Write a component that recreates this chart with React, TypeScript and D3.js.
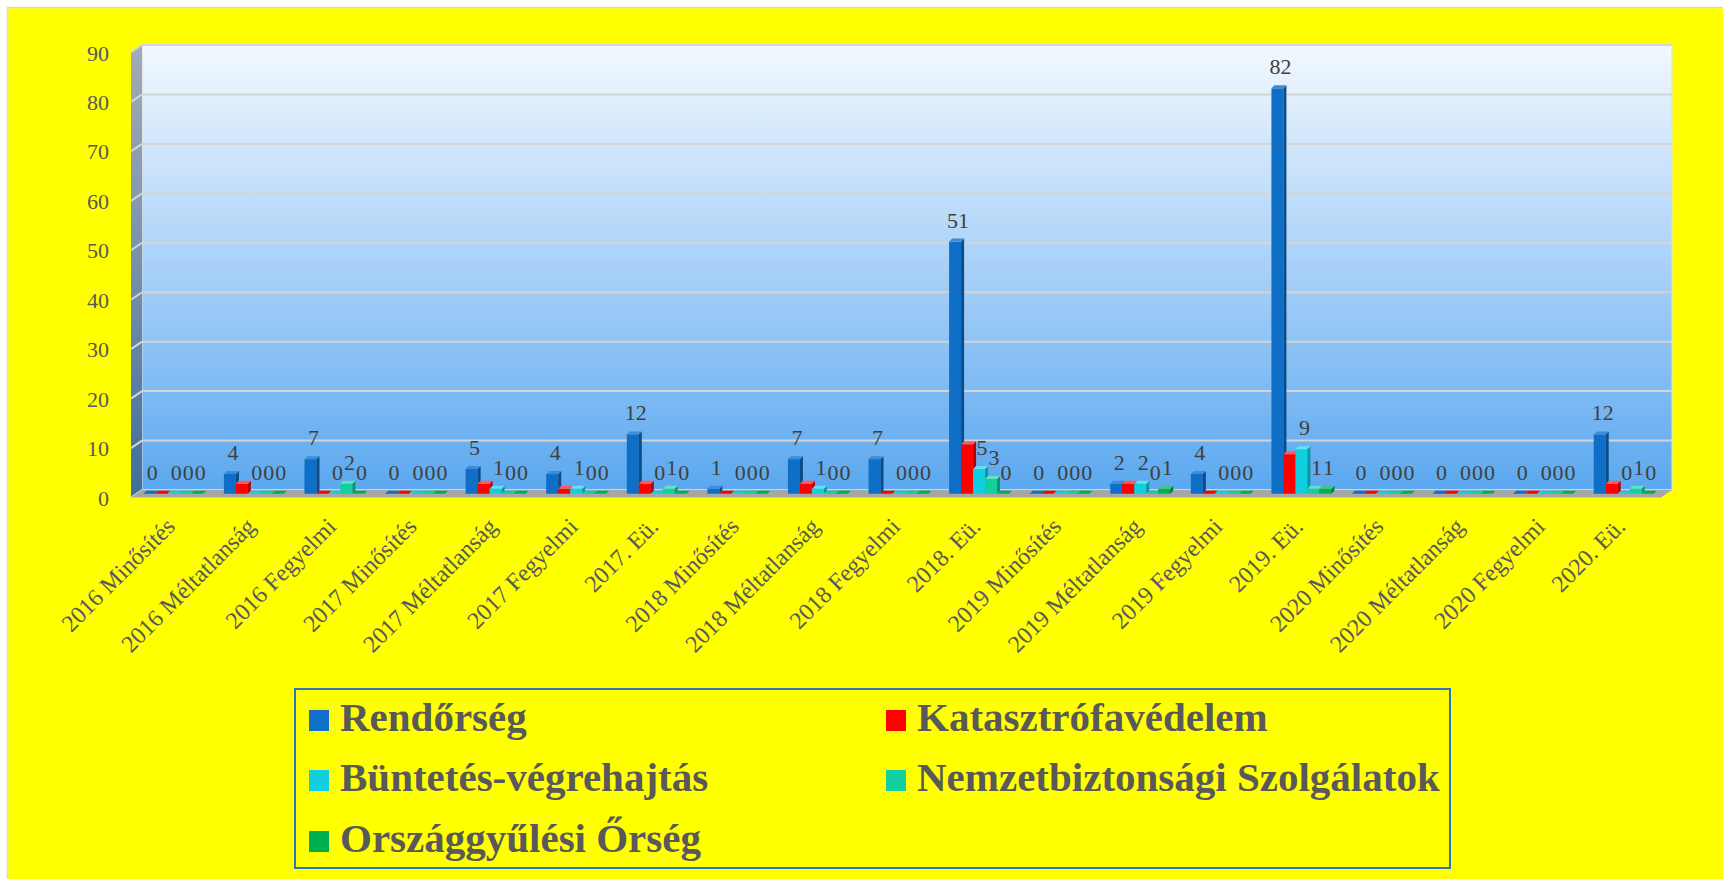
import React from 'react';
import * as d3 from 'd3';

const categories = [
  '2016 Minősítés', '2016 Méltatlanság', '2016 Fegyelmi',
  '2017 Minősítés', '2017 Méltatlanság', '2017 Fegyelmi', '2017. Eü.',
  '2018 Minősítés', '2018 Méltatlanság', '2018 Fegyelmi', '2018. Eü.',
  '2019 Minősítés', '2019 Méltatlanság', '2019 Fegyelmi', '2019. Eü.',
  '2020 Minősítés', '2020 Méltatlanság', '2020 Fegyelmi', '2020. Eü.',
];
const seriesNames = ['Rendőrség', 'Katasztrófavédelem', 'Büntetés-végrehajtás', 'Nemzetbiztonsági Szolgálatok', 'Országgyűlési Őrség'];
const rendorseg = [0, 4, 7, 0, 5, 4, 12, 1, 7, 7, 51, 0, 2, 4, 82, 0, 0, 0, 12];
const katasztrofavedelem = [0, 2, 0, 0, 2, 1, 2, 0, 2, 0, 10, 0, 2, 0, 8, 0, 0, 0, 2];
const buntetes = [0, 0, 0, 0, 1, 1, 0, 0, 1, 0, 5, 0, 2, 0, 9, 0, 0, 0, 0];
const nemzetbiztonsagi = [0, 0, 2, 0, 0, 0, 1, 0, 0, 0, 3, 0, 0, 0, 1, 0, 0, 0, 1];
const orszaggyulesi = [0, 0, 0, 0, 0, 0, 0, 0, 0, 0, 0, 0, 1, 0, 1, 0, 0, 0, 0];
const yTicks = [0, 10, 20, 30, 40, 50, 60, 70, 80, 90];

const seriesValues = [rendorseg, katasztrofavedelem, buntetes, nemzetbiztonsagi, orszaggyulesi];
const seriesFront = ['#0f6fc6', '#ff0000', '#12cfe0', '#12cf9e', '#00b050'];
const seriesSide = ['#0a4b88', '#b00000', '#0a97a4', '#0a9572', '#00783a'];
const seriesTop = ['#3e8bd6', '#ff5a5a', '#62e2ee', '#62e2c0', '#45c57c'];
const legendColors = ['#1070c8', '#ff0000', '#12cfe0', '#12cf9e', '#00b050'];
const showLabel = [true, false, true, true, true];

const W = 1723;
const H = 879;
const BACK_LEFT = 142;
const BACK_RIGHT = 1672;
const BACK_BASE = 490;
const DX = 11;
const DY = -7.5;
const FRONT_BASE = BACK_BASE - DY;
const MID_BASE = BACK_BASE - DY / 2;
const BD = 3;
const FONT = '"Liberation Serif", "Times New Roman", serif';
const TXT = '#595959';

export default function App() {
  const yH = d3.scaleLinear().domain([0, 90]).range([0, 445]);
  const x0 = d3.scaleBand<string>().domain(categories).range([133, 1664]).paddingInner(0.256).paddingOuter(0.128);
  const x1 = d3.scaleBand<string>().domain(seriesNames).range([0, x0.bandwidth()]);
  const bw = x1.bandwidth();

  const frontLeft = BACK_LEFT - DX;
  const frontRight = BACK_RIGHT - DX;
  const topV = yH(90);

  const sideWall = `M${frontLeft},${FRONT_BASE} L${frontLeft},${FRONT_BASE - topV} L${BACK_LEFT},${BACK_BASE - topV} L${BACK_LEFT},${BACK_BASE} Z`;
  const floor = `M${frontLeft},${FRONT_BASE} L${frontRight},${FRONT_BASE} L${BACK_RIGHT},${BACK_BASE} L${BACK_LEFT},${BACK_BASE} Z`;

  const bars: React.ReactNode[] = [];
  const labels: React.ReactNode[] = [];
  categories.forEach((c, ci) => {
    seriesNames.forEach((s, si) => {
      const v = seriesValues[si][ci];
      const x = (x0(c) as number) + (x1(s) as number);
      const yb = MID_BASE;
      const yt = MID_BASE - yH(v);
      const key = `${ci}-${si}`;
      bars.push(
        <g key={key}>
          {v > 0 && <rect x={x} y={yt} width={bw} height={yb - yt} fill={seriesFront[si]} />}
          {v > 0 && (
            <path d={`M${x + bw},${yb} L${x + bw},${yt} L${x + bw + BD},${yt - BD} L${x + bw + BD},${yb - BD} Z`} fill={seriesSide[si]} />
          )}
          <path d={`M${x},${yt} L${x + bw},${yt} L${x + bw + BD},${yt - BD} L${x + BD},${yt - BD} Z`} fill={v > 0 ? seriesTop[si] : seriesFront[si]} />
        </g>
      );
      if (showLabel[si]) {
        labels.push(
          <text key={'l' + key} x={x + bw / 2 + 3} y={yt - 14} textAnchor="middle" fontFamily={FONT} fontSize={22} fill="#404040">
            {v}
          </text>
        );
      }
    });
  });

  const legendX = [309, 886];
  const legendRows = [731, 791, 852];

  return (
    <svg width={W} height={H} style={{ position: 'absolute', left: 0, top: 0 }}>
      <defs>
        <linearGradient id="wallGrad" x1="0" y1="0" x2="0" y2="1">
          <stop offset="0%" stopColor="#f2f8fe" />
          <stop offset="45%" stopColor="#b0d5f9" />
          <stop offset="100%" stopColor="#5ba8ef" />
        </linearGradient>
        <linearGradient id="sideGrad" x1="0" y1="0" x2="0" y2="1">
          <stop offset="0%" stopColor="#a3abb4" />
          <stop offset="50%" stopColor="#7690ac" />
          <stop offset="100%" stopColor="#3f6e9c" />
        </linearGradient>
      </defs>
      <rect x={0} y={0} width={W} height={H} fill="#ffffff" />
      <rect x={7.5} y={7.5} width={W} height={H} fill="#ffff00" stroke="#d9d9d9" strokeWidth={1.5} />

      <rect x={BACK_LEFT} y={BACK_BASE - topV} width={BACK_RIGHT - BACK_LEFT} height={topV} fill="url(#wallGrad)" stroke="#dcdcdc" strokeWidth={1} />
      <path d={sideWall} fill="url(#sideGrad)" />
      {yTicks.map((t) => (
        <g key={'g' + t}>
          <line x1={BACK_LEFT} x2={BACK_RIGHT} y1={BACK_BASE - yH(t)} y2={BACK_BASE - yH(t)} stroke="#d4d4d4" strokeWidth={2} />
          <line x1={frontLeft} x2={BACK_LEFT} y1={FRONT_BASE - yH(t)} y2={BACK_BASE - yH(t)} stroke="#d4d4d4" strokeWidth={2} />
        </g>
      ))}
      <path d={floor} fill="#a6a6a6" />

      {bars}
      {labels}

      {yTicks.map((t) => (
        <text key={'y' + t} x={109} y={FRONT_BASE - yH(t) + 3} textAnchor="end" dominantBaseline="middle" fontFamily={FONT} fontSize={22} fill={TXT}>
          {t}
        </text>
      ))}

      {categories.map((c) => {
        const cx = (x0(c) as number) + x0.bandwidth() / 2 + 3;
        const cy = 528;
        return (
          <text key={'x' + c} x={cx} y={cy} textAnchor="end" transform={`rotate(-45 ${cx} ${cy})`} fontFamily={FONT} fontSize={24} fill={TXT}>
            {c}
          </text>
        );
      })}

      <rect x={295} y={689} width={1155} height={179} fill="#ffff00" stroke="#2f75b5" strokeWidth={2} />
      {seriesNames.map((s, i) => {
        const col = i % 2;
        const row = Math.floor(i / 2);
        const lx = legendX[col];
        const ly = legendRows[row];
        return (
          <g key={'lg' + s}>
            <rect x={lx} y={ly - 21} width={20} height={21} fill={legendColors[i]} />
            <text x={lx + 31} y={ly} fontFamily={FONT} fontWeight="bold" fontSize={41} fill={TXT}>
              {s}
            </text>
          </g>
        );
      })}
    </svg>
  );
}
